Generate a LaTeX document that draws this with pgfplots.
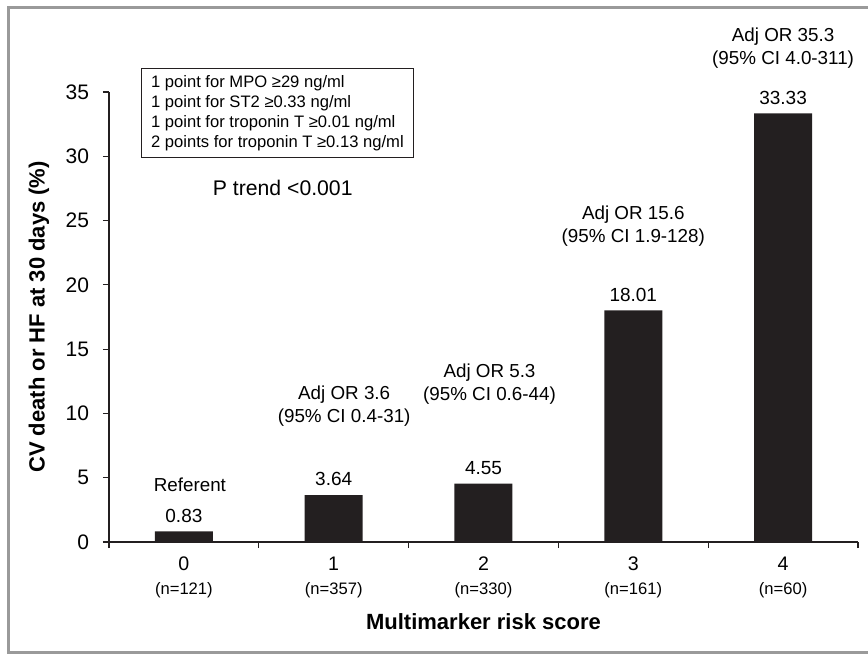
\documentclass[border=0pt]{standalone}
\usepackage{fontspec}
\setmainfont{Liberation Sans}
\usepackage{pgfplots}
\pgfplotsset{compat=1.18}
\definecolor{barc}{HTML}{231F20}
\definecolor{framec}{HTML}{9A9A9A}
\begin{document}
\begin{tikzpicture}
\useasboundingbox (-54.5pt,-56pt) rectangle (379.5pt,271pt);
\draw[framec, line width=1.5pt] (381pt,267pt) -- (-50pt,267pt) -- (-50pt,-55pt) -- (381pt,-55pt);
\begin{axis}[
  at={(0pt,0pt)}, anchor=south west,
  scale only axis, width=374.5pt, height=225pt,
  xmin=-0.5, xmax=4.5, ymin=0, ymax=35,
  axis x line*=bottom, axis y line*=left,
  axis line style={barc, line width=0.6pt},
  ytick={0,5,...,35},
  xtick={-0.5,0.5,1.5,2.5,3.5,4.5}, xticklabels={},
  extra x ticks={0,1,2,3,4},
  extra x tick labels={
    {0\\[0pt]\fontsize{8.3}{9}\selectfont(n=121)},
    {1\\[0pt]\fontsize{8.3}{9}\selectfont(n=357)},
    {2\\[0pt]\fontsize{8.3}{9}\selectfont(n=330)},
    {3\\[0pt]\fontsize{8.3}{9}\selectfont(n=161)},
    {4\\[0pt]\fontsize{8.3}{9}\selectfont(n=60)}},
  extra x tick style={major tick length=0pt,
    tick label style={align=center, font=\fontsize{9.8}{12}\selectfont, anchor=north, yshift=-4pt}},
  tick align=outside, major tick length=3pt,
  tick style={barc, line width=0.6pt},
  /pgf/number format/assume math mode=true,
  yticklabel style={font=\fontsize{10.5}{12}\selectfont, xshift=-3.5pt},
  xlabel={\bfseries Multimarker risk score},
  xlabel style={font=\fontsize{11}{13}\selectfont, at={(axis description cs:0.5,0)}, anchor=center, yshift=-40pt},
  ylabel={\bfseries CV death or HF at 30 days (\%)},
  ylabel style={font=\fontsize{11}{13}\selectfont, at={([xshift=-35pt]axis description cs:0,0.5)}, anchor=center},
  ybar, bar width=29pt,
  clip=false,
  nodes near coords, point meta=explicit symbolic,
  nodes near coords style={font=\fontsize{9.5}{11}\selectfont, yshift=1pt},
]
\addplot[fill=barc, draw=none] coordinates {(0,0.83)[0.83] (1,3.64)[3.64] (2,4.55)[4.55] (3,18.01)[18.01] (4,33.33)[33.33]};
\node[font=\fontsize{9.4}{11}\selectfont] at (axis cs:0.04,4.44) {Referent};
\node[font=\fontsize{9.4}{11.5}\selectfont, align=center] at (axis cs:1.07,10.59) {Adj OR 3.6\\(95\% CI 0.4-31)};
\node[font=\fontsize{9.4}{11.5}\selectfont, align=center] at (axis cs:2.04,12.3) {Adj OR 5.3\\(95\% CI 0.6-44)};
\node[font=\fontsize{9.4}{11.5}\selectfont, align=center] at (axis cs:3,24.53) {Adj OR 15.6\\(95\% CI 1.9-128)};
\node[font=\fontsize{9.4}{11.5}\selectfont, align=center] at (axis cs:4,38.43) {Adj OR 35.3\\(95\% CI 4.0-311)};
\node[font=\fontsize{10.6}{12}\selectfont] at (axis cs:0.66,27.57) {P trend <0.001};
\node[draw=barc, line width=0.5pt, anchor=north west, align=left, font=\fontsize{8.3}{10}\selectfont, inner xsep=4pt, inner ysep=3pt, minimum width=136pt, minimum height=44.5pt] at (axis cs:-0.287,36.84) {1 point for MPO ≥29 ng/ml\\1 point for ST2 ≥0.33 ng/ml\\1 point for troponin T ≥0.01 ng/ml\\2 points for troponin T ≥0.13 ng/ml};
\end{axis}
\end{tikzpicture}
\end{document}
